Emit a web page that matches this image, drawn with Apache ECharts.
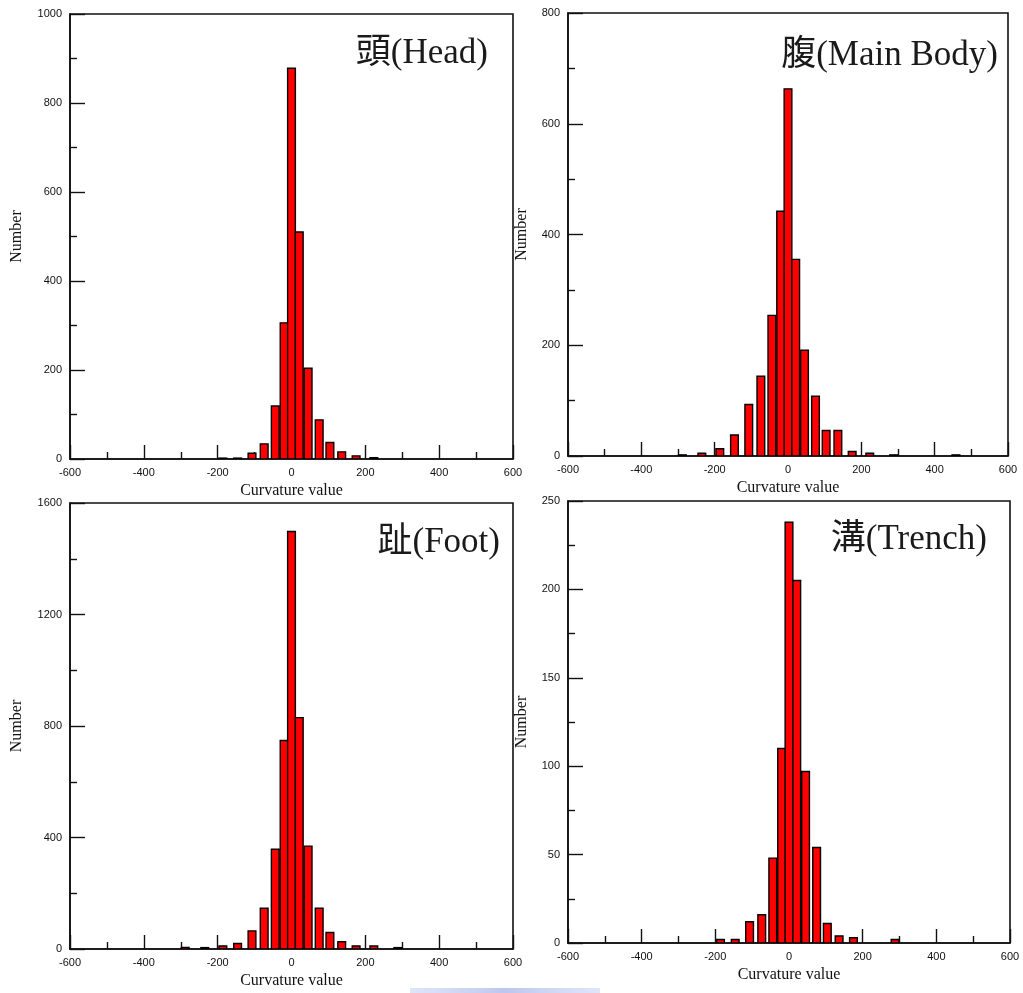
<!DOCTYPE html>
<html>
<head>
<meta charset="utf-8">
<title>Curvature value distributions</title>
<script src="https://cdn.jsdelivr.net/npm/echarts@6/dist/echarts.min.js"></script>
<style>
  html, body { margin: 0; padding: 0; background: #ffffff; }
  #chart { width: 1023px; height: 993px; }
</style>
</head>
<body>
<div id="chart"></div>
<script>
// Histogram bin centres (curvature value), shared by all four regions
const binCenters = [-460, -288, -235, -186, -146, -107, -74, -44, -20, 0, 21, 45, 75, 104, 136, 175, 223, 288, 458];

// Counts per bin for each region
const headCounts   = [0, 0, 0, 2, 2, 13, 34, 119, 306, 878, 510, 204, 88, 37, 16, 7, 3, 0, 0];
const bodyCounts   = [0, 2, 5, 13, 38, 93, 144, 254, 442, 663, 355, 191, 108, 46, 46, 8, 5, 2, 2];
const footCounts   = [0, 6, 5, 11, 20, 65, 146, 358, 748, 1498, 830, 369, 146, 59, 26, 11, 11, 5, 0];
const trenchCounts = [0, 0, 0, 2, 2, 12, 16, 48, 110, 238, 205, 97, 54, 11, 4, 3, 0, 2, 0];

// Panel titles
const panelTitles = ['頭(Head)', '腹(Main Body)', '趾(Foot)', '溝(Trench)'];

// Axis ranges
const xRange = [-600, 600];
const xStep = 200;
const yMaxes = [1000, 800, 1600, 250];
const ySteps = [200, 200, 400, 50];

const xAxisName = 'Curvature value';
const yAxisName = 'Number';

// width of one bar in curvature units
const BAR_SPAN = 21;

const countsList = [headCounts, bodyCounts, footCounts, trenchCounts];

// plot rectangles for the 2x2 layout
const grids = [
  { left: 70,  top: 14,  width: 443, height: 445 },
  { left: 568, top: 13,  width: 440, height: 443 },
  { left: 70,  top: 503, width: 443, height: 446 },
  { left: 568, top: 501, width: 442, height: 442 }
];
const yNameGaps = [45, 38, 45, 38];
const titlePos = [
  { x: 488, y: 54 },
  { x: 998, y: 56 },
  { x: 500, y: 543 },
  { x: 987, y: 540 }
];

const tickFont = { fontFamily: '"Liberation Sans", Arial, sans-serif', fontSize: 11, color: '#111' };
const nameFont = { fontFamily: '"Liberation Serif", "Times New Roman", serif', fontSize: 16, color: '#111' };
const plainNumber = v => String(v);

function renderBar(params, api) {
  const x = api.value(0);
  const n = api.value(1);
  const topLeft = api.coord([x - BAR_SPAN / 2, n]);
  const bottomRight = api.coord([x + BAR_SPAN / 2, 0]);
  return {
    type: 'rect',
    shape: {
      x: topLeft[0],
      y: topLeft[1],
      width: bottomRight[0] - topLeft[0],
      height: bottomRight[1] - topLeft[1]
    },
    style: { fill: '#ff0000', stroke: '#000000', lineWidth: 1.4 }
  };
}

const option = {
  backgroundColor: '#ffffff',
  animation: false,
  grid: grids.map(g => Object.assign({
    show: true, borderColor: '#111', borderWidth: 1.6, backgroundColor: 'transparent',
    containLabel: false
  }, g)),
  xAxis: grids.map((g, i) => ({
    type: 'value',
    gridIndex: i,
    min: xRange[0],
    max: xRange[1],
    interval: xStep,
    name: xAxisName,
    nameLocation: 'middle',
    nameGap: 24,
    nameTextStyle: nameFont,
    axisLine: { show: true, onZero: false, lineStyle: { color: '#111', width: 1.6 } },
    axisTick: { show: true, inside: true, length: 14, lineStyle: { color: '#111', width: 1.4 } },
    minorTick: { show: true, splitNumber: 2, length: 7, lineStyle: { color: '#111', width: 1.4 } },
    splitLine: { show: false },
    axisLabel: Object.assign({ margin: 8, formatter: plainNumber }, tickFont)
  })),
  yAxis: grids.map((g, i) => ({
    type: 'value',
    gridIndex: i,
    min: 0,
    max: yMaxes[i],
    interval: ySteps[i],
    name: yAxisName,
    nameLocation: 'middle',
    nameRotate: 90,
    nameGap: yNameGaps[i],
    nameTextStyle: nameFont,
    axisLine: { show: true, onZero: false, lineStyle: { color: '#111', width: 1.6 } },
    axisTick: { show: true, inside: true, length: 15, lineStyle: { color: '#111', width: 1.4 } },
    minorTick: { show: true, splitNumber: 2, length: 7, lineStyle: { color: '#111', width: 1.4 } },
    splitLine: { show: false },
    axisLabel: Object.assign({ margin: 8, formatter: plainNumber }, tickFont)
  })),
  series: countsList.map((counts, i) => ({
    type: 'custom',
    xAxisIndex: i,
    yAxisIndex: i,
    clip: true,
    renderItem: renderBar,
    encode: { x: 0, y: 1 },
    data: binCenters.map((c, k) => [c, counts[k]]).filter(d => d[1] > 0)
  })),
  graphic: panelTitles.map((t, i) => ({
    type: 'text',
    x: titlePos[i].x,
    y: titlePos[i].y,
    style: {
      text: t,
      fontFamily: '"Liberation Serif", "Times New Roman", "Noto Sans CJK TC", serif',
      fontSize: 35,
      fill: '#1a1a1a',
      align: 'right',
      verticalAlign: 'middle'
    }
  })).concat([{
    type: 'rect',
    shape: { x: 410, y: 988, width: 190, height: 5 },
    style: {
      fill: new echarts.graphic.LinearGradient(0, 0, 1, 0, [
        { offset: 0, color: 'rgba(185,198,240,0.45)' },
        { offset: 0.5, color: 'rgba(160,175,232,0.7)' },
        { offset: 1, color: 'rgba(185,198,240,0.45)' }
      ])
    }
  }])
};

const chart = echarts.init(document.getElementById('chart'), null, { renderer: 'canvas' });
chart.setOption(option);
</script>
</body>
</html>
